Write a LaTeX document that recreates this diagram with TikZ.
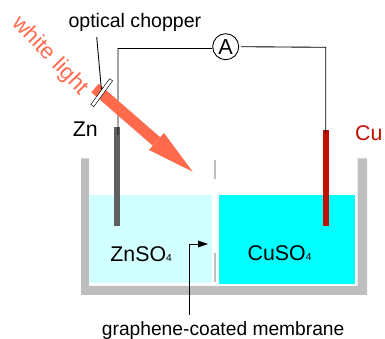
\documentclass[tikz,border=0pt]{standalone}
\usepackage{fontspec}
\setmainfont{Liberation Sans}
\definecolor{beaker}{HTML}{BEBEBE}
\definecolor{znsol}{HTML}{D2FFFF}
\definecolor{cusol}{HTML}{00FFFF}
\definecolor{znmetal}{HTML}{5F5F5F}
\definecolor{cumetal}{HTML}{BF1000}
\definecolor{beam}{HTML}{FF6A4D}
\tikzset{
  caption/.style={inner sep=0pt,anchor=base west,font=\fontsize{18.2}{20}\selectfont},
  smallcaption/.style={inner sep=0pt,anchor=base west,font=\fontsize{16.4}{20}\selectfont},
  wire/.style={black,line width=0.75pt}
}
\newcommand{\subfour}{{\fontsize{8.7}{10}\selectfont 4}}
\begin{document}
\begin{tikzpicture}[scale=0.03]
\useasboundingbox (0,0) rectangle (385,-339);
\fill [beaker] (81,-158.5) -- (89,-158.5) -- (89,-286) -- (357.5,-286) -- (357.5,-158.5) -- (367,-158.5) -- (367,-295) -- (81,-295) -- cycle;
\fill [znsol] (89,-195) rectangle (212,-283.5);
\fill [cusol] (219,-195.5) rectangle (355,-284);
\fill [beaker] (214.2,-160) rectangle (215.8,-179.5);
\fill [beaker] (214.2,-253) rectangle (215.8,-282.5);
\fill [znmetal] (113.5,-127) rectangle (120,-226.5);
\fill [cumetal] (322.7,-130) rectangle (329,-226);
\coordinate (znend) at (118,-135);
\coordinate (cuend) at (325.7,-133);
\coordinate (zncorner) at (118,-48.5);
\coordinate (cucorner) at (325.7,-47.3);
\node (ammeter) [draw,circle,inner sep=0pt,minimum size=0.78cm,line width=0.75pt,font=\fontsize{18.5}{20}\selectfont] at (225.7,-46.7) {A};
\draw [wire] (ammeter) -- (ammeter.west |- zncorner) -- (zncorner) -- (znend);
\draw [wire,shorten <=1.5pt] (ammeter.east) -- (cucorner) -- (cuend);
\coordinate (beamstart) at (95,-88);
\coordinate (beamneck) at (156.5,-141.5);
\coordinate (beamtip) at (192.7,-171.7);
\coordinate (beamleft) at (164,-133);
\coordinate (beamright) at (149,-150);
\draw [beam,line width=9.6pt] (beamstart) -- (beamneck);
\fill [beam] (beamtip) -- (beamleft) -- (beamright) -- cycle;
\node (chopper) [draw,fill=white,rectangle,rotate=54,inner sep=0pt,minimum width=0.96cm,minimum height=0.11cm,line width=0.4pt] at (101.7,-92.7) {};
\node (choppertext) [smallcaption,font=\fontsize{16.7}{20}\selectfont] at (68.3,-28) {optical chopper};
\coordinate (chopperlead) at (96.7,-37);
\draw [wire] (chopperlead) -- (chopper);
\node (whitelight) [inner sep=0pt,rotate=-46,text=beam,font=\fontsize{19}{20}\selectfont] at (50,-56) {white light};
\node (zntext) [caption] at (72.7,-137) {Zn};
\node (cutext) [caption,text=cumetal] at (355,-140.7) {Cu};
\node (znso) [caption] at (110.2,-261.7) {ZnSO\subfour};
\node (cuso) [caption] at (247.5,-261) {CuSO\subfour};
\node (membranetext) [smallcaption] at (101.7,-335) {graphene-coated membrane};
\coordinate (membranefoot) at (189.3,-315);
\coordinate (membraneelbow) at (189.3,-244);
\coordinate (membranetip) at (208,-244);
\coordinate (membraneneck) at (198,-244);
\draw [wire] (membranefoot) -- (membraneelbow) -- (membraneneck);
\fill [black] (membranetip) -- (198,-240.5) -- (198,-247.5);
\end{tikzpicture}
\end{document}
